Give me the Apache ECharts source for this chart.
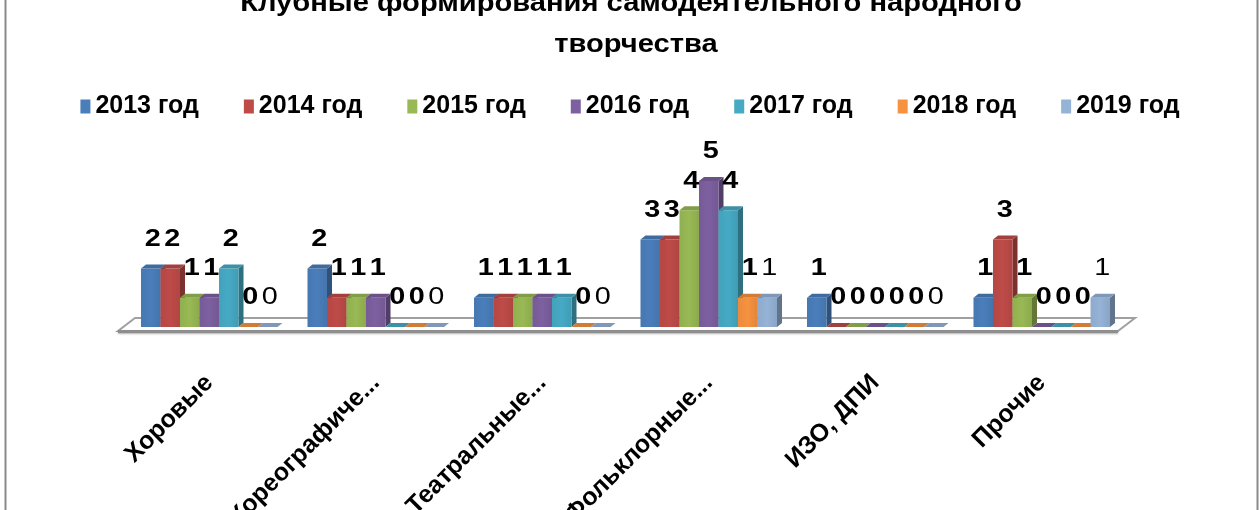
<!DOCTYPE html>
<html lang="ru">
<head>
<meta charset="UTF-8">
<title>Клубные формирования</title>
<script src="https://cdn.jsdelivr.net/npm/echarts@6/dist/echarts.min.js"></script>
<style>
  html, body { margin: 0; padding: 0; background: #fff; }
  #chart { width: 1260px; height: 510px; }
</style>
</head>
<body>
<div id="chart"></div>
<script>
// данные
var categories = ['Хоровые', 'Хореографиче...', 'Театральные...', 'Фольклорные...', 'ИЗО, ДПИ', 'Прочие'];
var years = ['2013 год', '2014 год', '2015 год', '2016 год', '2017 год', '2018 год', '2019 год'];
var y2013 = [2, 2, 1, 3, 1, 1];
var y2014 = [2, 1, 1, 3, 0, 3];
var y2015 = [1, 1, 1, 4, 0, 1];
var y2016 = [1, 1, 1, 5, 0, 0];
var y2017 = [2, 0, 1, 4, 0, 0];
var y2018 = [0, 0, 0, 1, 0, 0];
var y2019 = [0, 0, 0, 1, 0, 1];
var values = [y2013, y2014, y2015, y2016, y2017, y2018, y2019];
var titleLines = ['Клубные формирования самодеятельного народного', 'творчества'];

var colors = ['#4a7ebb', '#be4b48', '#98b954', '#7d60a0', '#46aac5', '#f69240', '#95b3d7'];
var font = '"Liberation Sans", Arial, sans-serif';

function shade(hex, k) {
    var c = echarts.color.parse(hex);
    var f = function (v) { return Math.max(0, Math.min(255, Math.round(k < 0 ? v * (1 + k) : v + (255 - v) * k))); };
    return 'rgb(' + f(c[0]) + ',' + f(c[1]) + ',' + f(c[2]) + ')';
}

// 3D-столбик: фронт, бок, верх и подпись
function makeRender(si) {
    return function (params, api) {
        var cat = api.value(0), val = api.value(1);
        var base = api.coord([cat, 0]);
        var top = api.coord([cat, val]);
        var band = api.size([1, 0])[0];
        var unit = api.size([0, 1])[1];
        var bw = band * 0.82 / 7;
        var x0 = base[0] + (si - 3.5) * bw;
        var x1 = x0 + bw;
        var yb = base[1], yt = top[1];
        var dx = 5, dy = -4;
        var c = colors[si];
        return {
            type: 'group',
            children: [
                { type: 'polygon', shape: { points: [[x1, yt], [x1 + dx, yt + dy], [x1 + dx, yb + dy], [x1, yb]] },
                  style: { fill: shade(c, -0.35) } },
                { type: 'rect', shape: { x: x0, y: yt, width: bw, height: yb - yt },
                  style: { fill: new echarts.graphic.LinearGradient(0, 0, 1, 0, [
                      { offset: 0, color: shade(c, -0.05) }, { offset: 0.5, color: c }, { offset: 1, color: shade(c, -0.08) }]) } },
                { type: 'polygon', shape: { points: [[x0, yt], [x0 + dx, yt + dy], [x1 + dx, yt + dy], [x1, yt]] },
                  style: { fill: shade(c, -0.15) } },
                { type: 'text', z2: 100, x: x0 + bw / 2 + 2, y: yt - unit, scaleX: 1.2,
                  style: { text: String(val), x: 0, y: 0, align: 'center', verticalAlign: 'middle',
                           fill: '#000', font: (si === 6 ? 'normal' : 'bold') + ' 24px ' + font } }
            ]
        };
    };
}

var series = [{
    type: 'custom',
    z: 1,
    silent: true,
    data: [[0, 0]],
    renderItem: function (params, api) {
        var cs = params.coordSys;
        var b = cs.y + cs.height;
        var x = cs.x, w = cs.width;
        return {
            type: 'group',
            children: [
                { type: 'polygon', shape: { points: [[x - 8, b + 4], [x + w - 7, b + 4], [x + w + 10, b - 9], [x + 9, b - 9]] },
                  style: { fill: '#fff', stroke: '#a0a0a0', lineWidth: 2 } },
                { type: 'rect', shape: { x: x - 8, y: b + 3, width: w + 1, height: 3 },
                  style: { fill: '#8e8e8e', shadowBlur: 2, shadowColor: 'rgba(0,0,0,0.3)', shadowOffsetY: 1 } }
            ]
        };
    }
}];

years.forEach(function (name, si) {
    series.push({
        name: name,
        type: 'custom',
        itemStyle: { color: colors[si] },
        renderItem: makeRender(si),
        data: values[si].map(function (v, i) { return [i, v]; })
    });
});

var titleStyle = { fill: '#000', font: 'bold 26px ' + font, align: 'center', verticalAlign: 'middle' };

var chart = echarts.init(document.getElementById('chart'));
chart.setOption({
    animation: false,
    legend: {
        data: years,
        top: 89,
        left: 'center',
        icon: 'rect',
        itemWidth: 10,
        itemHeight: 14,
        itemGap: 45,
        textStyle: { fontFamily: font, fontSize: 25, fontWeight: 'bold', color: '#000' }
    },
    graphic: [{
        type: 'rect',
        left: 3, top: -5,
        shape: { width: 1252, height: 530 },
        style: { fill: 'none', stroke: '#8a8a8a', lineWidth: 2 },
        silent: true
    }, {
        type: 'text', x: 631, y: 4, scaleX: 1.12, silent: true,
        style: Object.assign({ text: titleLines[0] }, titleStyle)
    }, {
        type: 'text', x: 636, y: 45, scaleX: 1.12, silent: true,
        style: Object.assign({ text: titleLines[1] }, titleStyle)
    }],
    grid: { left: 126, width: 999, top: 181, bottom: 183, outerBoundsMode: 'none', containLabel: false },
    xAxis: {
        type: 'category',
        data: categories,
        axisLine: { show: false },
        axisTick: { show: false },
        axisLabel: { interval: 0, rotate: 45, margin: 52, fontFamily: font, fontSize: 25, fontWeight: 'bold', color: '#000' }
    },
    yAxis: { type: 'value', min: 0, max: 5, show: false },
    series: series
});
</script>
</body>
</html>
